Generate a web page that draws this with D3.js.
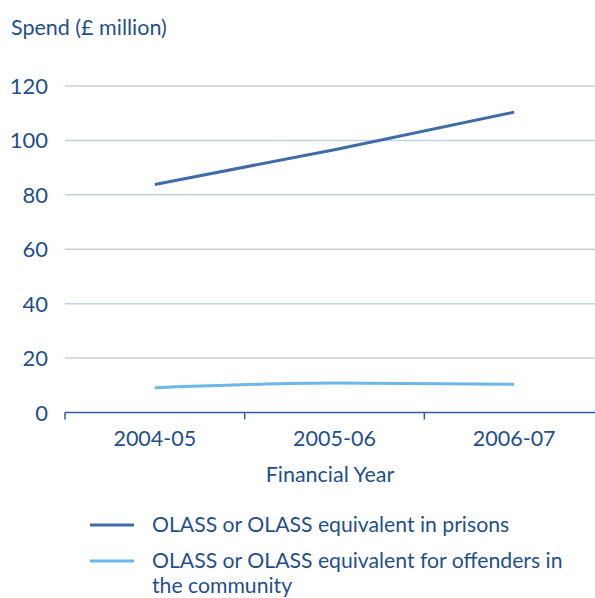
<!DOCTYPE html>
<html>
<head>
<meta charset="utf-8">
<script src="https://cdn.jsdelivr.net/npm/d3@7"></script>
<style>
  html, body { margin: 0; padding: 0; background: #ffffff; }
  svg text { font-family: Lato, "Noto Sans", sans-serif; fill: #1f4f8f; }
</style>
</head>
<body>
<svg id="chart" width="595" height="598"></svg>
<script>
// Financial years on the x axis
const years = ["2004-05", "2005-06", "2006-07"];
// Spend in £ million
const prisons = [83.8, 96.6, 110.4];
const community = [9.1, 10.8, 10.4];
const yTicks = [0, 20, 40, 60, 80, 100, 120];
const seriesNames = [
  "OLASS or OLASS equivalent in prisons",
  "OLASS or OLASS equivalent for offenders in the community"
];
const seriesColors = ["#3f6ca8", "#6db6ea"];

const svg = d3.select("#chart");
const plotLeft = 65, plotRight = 604, plotTop = 86, plotBottom = 412.5;

const x = d3.scaleBand().domain(years).range([plotLeft, plotRight]);
const y = d3.scaleLinear().domain([0, 120]).range([plotBottom, plotTop]);

// horizontal gridlines
svg.append("g").selectAll("line")
  .data(yTicks.filter(d => d > 0))
  .join("line")
  .attr("x1", plotLeft).attr("x2", 595)
  .attr("y1", d => y(d)).attr("y2", d => y(d))
  .attr("stroke", "#c3d2e6").attr("stroke-width", 1.5);

// y tick labels
svg.append("g").selectAll("text")
  .data(yTicks)
  .join("text")
  .attr("x", 48).attr("y", d => y(d) + 8)
  .attr("text-anchor", "end")
  .attr("font-size", 22)
  .text(d => d);

// x axis
const xAxis = svg.append("g")
  .attr("transform", `translate(0,${plotBottom})`)
  .call(d3.axisBottom(x).tickSizeOuter(0).tickSizeInner(0));
xAxis.select(".domain").remove();
xAxis.selectAll(".tick line").remove();
xAxis.selectAll("text")
  .attr("font-size", 21.5)
  .attr("dy", 0)
  .attr("y", 33)
  .style("font-family", "Lato, 'Noto Sans', sans-serif")
  .attr("fill", "#1f4f8f");
svg.append("line")
  .attr("x1", plotLeft).attr("x2", 595)
  .attr("y1", plotBottom).attr("y2", plotBottom)
  .attr("stroke", "#2f5e9a").attr("stroke-width", 1.5);
// category boundary ticks
const bounds = years.map(d => x(d));
svg.append("g").selectAll("line")
  .data(bounds)
  .join("line")
  .attr("x1", d => d).attr("x2", d => d)
  .attr("y1", plotBottom).attr("y2", plotBottom + 7)
  .attr("stroke", "#2f5e9a").attr("stroke-width", 1.5);

// axis titles
svg.append("text").attr("x", 11).attr("y", 35)
  .attr("font-size", 21.5).text("Spend (£ million)");
svg.append("text").attr("x", 330).attr("y", 482)
  .attr("text-anchor", "middle").attr("font-size", 21.5).text("Financial Year");

// series lines
const line = d3.line()
  .x((d, i) => x(years[i]) + x.bandwidth() / 2)
  .y(d => y(d))
  .curve(d3.curveMonotoneX);
[prisons, community].forEach((vals, i) => {
  svg.append("path")
    .datum(vals)
    .attr("fill", "none")
    .attr("stroke", seriesColors[i])
    .attr("stroke-width", 3)
    .attr("d", line);
});

// legend
const legend = svg.append("g");
legend.append("line").attr("x1", 90).attr("x2", 134).attr("y1", 525).attr("y2", 525)
  .attr("stroke", seriesColors[0]).attr("stroke-width", 3);
legend.append("text").attr("x", 152).attr("y", 532).attr("font-size", 21.2)
  .text(seriesNames[0]);
legend.append("line").attr("x1", 90).attr("x2", 134).attr("y1", 561).attr("y2", 561)
  .attr("stroke", seriesColors[1]).attr("stroke-width", 3);
const t2 = legend.append("text").attr("x", 152).attr("y", 568).attr("font-size", 21.2);
t2.append("tspan").attr("x", 152).text("OLASS or OLASS equivalent for offenders in");
t2.append("tspan").attr("x", 152).attr("dy", 25).text("the community");
</script>
</body>
</html>
